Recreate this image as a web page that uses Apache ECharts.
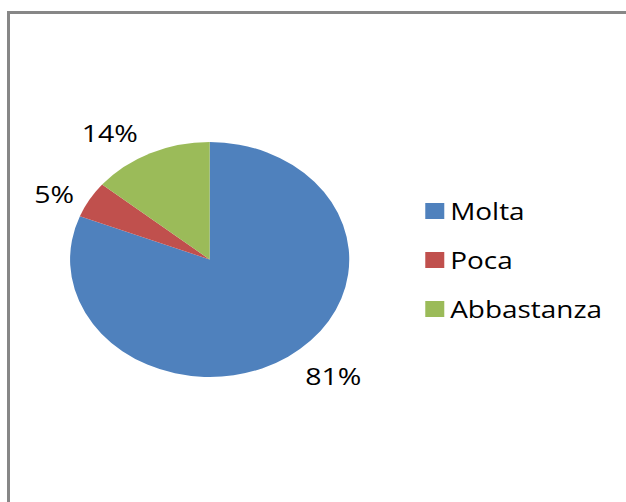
<!DOCTYPE html>
<html>
<head>
<meta charset="utf-8">
<script src="https://cdn.jsdelivr.net/npm/echarts@6/dist/echarts.min.js"></script>
<style>
  html, body { margin: 0; padding: 0; background: #fff; }
  #frame {
    position: absolute; left: 7px; top: 11px; right: 0; bottom: 0;
    border-top: 3px solid #878787; border-left: 3px solid #878787;
  }
  /* the reference picture is stretched sideways, so the whole chart is too */
  #chart {
    position: absolute; left: 0; top: 0; width: 527px; height: 502px;
    transform: scaleX(1.1879); transform-origin: 0 0;
  }
</style>
</head>
<body>
<div id="frame"></div>
<div id="chart"></div>
<script>
// dati del grafico
var categories = ['Molta', 'Poca', 'Abbastanza']
var values = [81, 5, 14]
var colors = ['#4F81BD', '#C0504D', '#9BBB59']

// piccoli spostamenti delle etichette (Excel usa "adatta")
var labelNudge = [[-5, 1], [13, 5], [6, 0]]

var pieData = categories.map(function (name, i) {
  return { name: name, value: values[i], itemStyle: { color: colors[i] } }
})

var chart = echarts.init(document.getElementById('chart'), null, { renderer: 'svg' })
chart.setOption({
  animation: false,
  textStyle: { fontFamily: 'Open Sans' },
  legend: {
    orient: 'vertical',
    left: 353,
    top: 194,
    itemWidth: 16,
    itemHeight: 16,
    itemGap: 25,
    icon: 'rect',
    selectedMode: false,
    data: categories,
    textStyle: { fontSize: 23.5, lineHeight: 24, color: '#000', fontFamily: 'Open Sans' }
  },
  series: [
    {
      type: 'pie',
      center: [176.5, 259.5],
      radius: 117.5,
      startAngle: 90,
      clockwise: true,
      avoidLabelOverlap: false,
      silent: true,
      data: pieData,
      label: {
        show: true,
        position: 'outside',
        formatter: '{d}%',
        fontSize: 24,
        color: '#000',
        fontFamily: 'Open Sans'
      },
      labelLine: { show: false, length: 22, length2: 2 },
      labelLayout: function (params) {
        var n = labelNudge[params.dataIndex]
        return { dx: n[0], dy: n[1] }
      },
      itemStyle: { borderWidth: 0 }
    }
  ]
})
</script>
</body>
</html>
